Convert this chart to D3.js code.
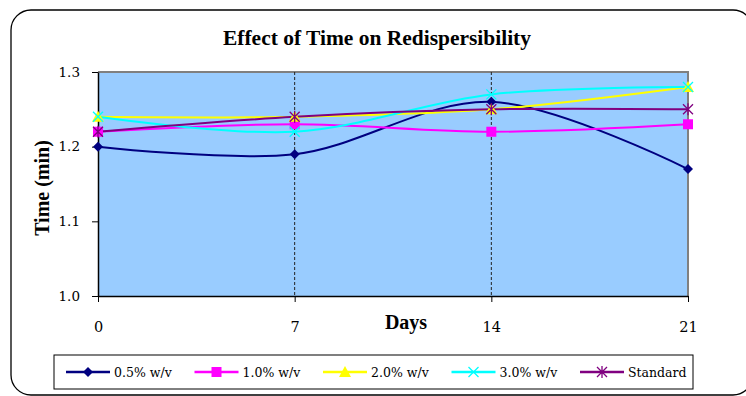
<!DOCTYPE html>
<html>
<head>
<meta charset="utf-8">
<script src="https://cdn.jsdelivr.net/npm/d3@7"></script>
<style>
  body { margin: 0; background: #fff; }
  text { font-family: "Liberation Serif", "Times New Roman", serif; }
</style>
</head>
<body>
<script>
// data
var days = [0, 7, 14, 21];
var yTicks = [1.0, 1.1, 1.2, 1.3];
var names = ["0.5% w/v", "1.0% w/v", "2.0% w/v", "3.0% w/v", "Standard"];
var v05 = [1.20, 1.19, 1.26, 1.17];
var v10 = [1.22, 1.23, 1.22, 1.23];
var v20 = [1.24, 1.24, 1.25, 1.28];
var v30 = [1.24, 1.22, 1.27, 1.28];
var vStd = [1.22, 1.24, 1.25, 1.25];

var colors = ["#000080", "#FF00FF", "#FFFF00", "#00FFFF", "#800080"];
var shapes = ["diamond", "square", "triangle", "x", "star"];
var series = [v05, v10, v20, v30, vStd].map(function(v, i) {
    return {name: names[i], values: v, color: colors[i], shape: shapes[i]};
});

var w = 746, h = 396;
var margin = {top: 72, left: 98, right: 58, bottom: 100};
var width = w - margin.left - margin.right,
    height = h - margin.top - margin.bottom;

var svg = d3.select("body").append("svg")
    .attr("width", w)
    .attr("height", h);

// outer frame
svg.append("rect")
    .attr("x", 11).attr("y", 10)
    .attr("width", 742).attr("height", 385)
    .attr("rx", 20)
    .attr("fill", "#fff")
    .attr("stroke", "#000")
    .attr("stroke-width", 1.3);

svg.append("text")
    .attr("x", 377).attr("y", 45)
    .attr("text-anchor", "middle")
    .attr("textLength", 308)
    .attr("lengthAdjust", "spacingAndGlyphs")
    .style("font-size", "20px")
    .style("font-weight", "bold")
    .text("Effect of Time on Redispersibility");

var g = svg.append("g")
    .attr("transform", "translate(" + margin.left + "," + margin.top + ")");

var x = d3.scaleLinear().domain([0, 21]).range([0, width]);
var y = d3.scaleLinear().domain([1.0, 1.3]).range([height, 0]);

// plot area
g.append("rect")
    .attr("width", width).attr("height", height)
    .attr("fill", "#99CCFF");
g.append("path")
    .attr("d", "M0,0H" + width + "V" + height)
    .attr("fill", "none")
    .attr("stroke", "#808080")
    .attr("stroke-width", 2);

// dashed vertical grid
g.selectAll(".vgrid")
    .data([7, 14])
    .join("line")
    .attr("x1", d => x(d)).attr("x2", d => x(d))
    .attr("y1", 0).attr("y2", height)
    .attr("stroke", "#222")
    .attr("stroke-width", 1)
    .attr("stroke-dasharray", "3,2");

// axes
var yAxis = g.append("g")
    .call(d3.axisLeft(y).tickValues(yTicks).tickFormat(d3.format(".1f")).tickSize(6).tickSizeOuter(0));
yAxis.select(".domain").attr("stroke", "#000").attr("stroke-width", 1.5);
yAxis.selectAll("text").style("font-size", "13.5px").style("font-family", "DejaVu Serif").attr("fill", "#000").attr("x", -18);

var xAxis = g.append("g")
    .attr("transform", "translate(0," + height + ")")
    .call(d3.axisBottom(x).tickValues(days).tickFormat(d3.format("d")).tickSize(6).tickSizeOuter(0));
xAxis.select(".domain").attr("stroke", "#000").attr("stroke-width", 1.5);
xAxis.selectAll("text").style("font-size", "14.5px").style("font-family", "DejaVu Serif").attr("fill", "#000").attr("y", 26);

svg.append("text")
    .attr("x", 406).attr("y", 329)
    .attr("text-anchor", "middle")
    .style("font-size", "20px")
    .style("font-weight", "bold")
    .text("Days");

svg.append("text")
    .attr("transform", "translate(49,188) rotate(-90)")
    .attr("text-anchor", "middle")
    .style("font-size", "20px")
    .style("font-weight", "bold")
    .text("Time (min)");

// lines
var line = d3.line()
    .x((d, i) => x(days[i]))
    .y(d => y(d))
    .curve(d3.curveCatmullRom.alpha(0.5));

function marker(sel, shape, color) {
    if (shape == "diamond") {
        sel.append("path").attr("d", "M0,-5L5,0L0,5L-5,0Z").attr("fill", color);
    } else if (shape == "square") {
        sel.append("rect").attr("x", -5).attr("y", -5).attr("width", 10).attr("height", 10).attr("fill", color);
    } else if (shape == "triangle") {
        sel.append("path").attr("d", "M0,-6L6,5L-6,5Z").attr("fill", color);
    } else if (shape == "x") {
        sel.append("path").attr("d", "M-5,-5L5,5M-5,5L5,-5").attr("stroke", color).attr("stroke-width", 1.3);
    } else {
        sel.append("path").attr("d", "M-5,-5L5,5M-5,5L5,-5M0,-6V6").attr("stroke", color).attr("stroke-width", 1.3);
    }
}

series.forEach(function(s) {
    g.append("path")
        .datum(s.values)
        .attr("d", line)
        .attr("fill", "none")
        .attr("stroke", s.color)
        .attr("stroke-width", 2);
});
series.forEach(function(s) {
    s.values.forEach(function(v, i) {
        var m = g.append("g").attr("transform", "translate(" + x(days[i]) + "," + y(v) + ")");
        marker(m, s.shape, s.color);
    });
});

// legend
var legend = svg.append("g");
legend.append("rect")
    .attr("x", 54).attr("y", 355)
    .attr("width", 639).attr("height", 34)
    .attr("fill", "#fff")
    .attr("stroke", "#000")
    .attr("stroke-width", 1);

series.forEach(function(s, i) {
    var lx = 66 + i * 128.5;
    var item = legend.append("g").attr("transform", "translate(" + lx + ",372)");
    item.append("line").attr("x1", 0).attr("x2", 44)
        .attr("stroke", s.color).attr("stroke-width", 2.5);
    var m = item.append("g").attr("transform", "translate(22,0)");
    marker(m, s.shape, s.color);
    item.append("text")
        .attr("x", 48).attr("y", 5)
        .style("font-size", "12.5px")
        .style("font-family", "DejaVu Serif")
        .text(s.name);
});
</script>
</body>
</html>
